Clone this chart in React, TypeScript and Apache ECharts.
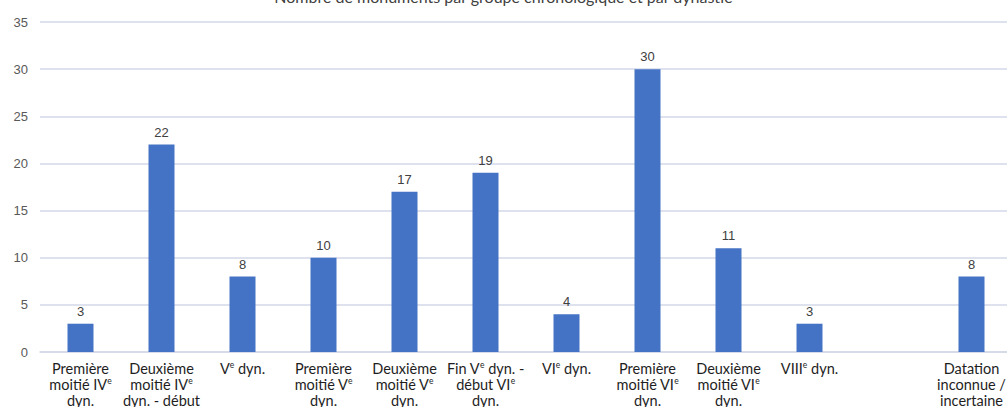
import React, { useEffect, useRef } from "react";
import * as echarts from "echarts";

const titleText = "Nombre de monuments par groupe chronologique et par dynastie";

const categories: string[] = [
  "Première\nmoitié IV{s|e}\ndyn.",
  "Deuxième\nmoitié IV{s|e}\ndyn. - début",
  "V{s|e} dyn.",
  "Première\nmoitié V{s|e}\ndyn.",
  "Deuxième\nmoitié V{s|e}\ndyn.",
  "Fin V{s|e} dyn. -\ndébut VI{s|e}\ndyn.",
  "VI{s|e} dyn.",
  "Première\nmoitié VI{s|e}\ndyn.",
  "Deuxième\nmoitié VI{s|e}\ndyn.",
  "VIII{s|e} dyn.",
  "",
  "Datation\ninconnue /\nincertaine",
];

const values: (number | null)[] = [3, 22, 8, 10, 17, 19, 4, 30, 11, 3, null, 8];

const yMin = 0;
const yMax = 35;
const yInterval = 5;

export default function App() {
  const ref = useRef<HTMLDivElement>(null);
  useEffect(() => {
    document.body.style.margin = "0";
    const chart = echarts.init(ref.current!, undefined, { renderer: "svg" });
    const gridColor = "#D3D8E8";
    chart.setOption({
      animation: false,
      backgroundColor: "#ffffff",
      title: {
        text: titleText,
        left: "center",
        top: -17,
        textStyle: {
          fontFamily: "Lato",
          fontSize: 16,
          fontWeight: "normal",
          color: "#404040",
        },
      },
      grid: {
        left: 40,
        right: -5,
        top: 22,
        bottom: 55,
        containLabel: false,
        outerBoundsMode: "none",
      },
      xAxis: {
        type: "category",
        data: categories,
        axisLine: { lineStyle: { color: gridColor, width: 1.5 } },
        axisTick: { show: false },
        axisLabel: {
          interval: 0,
          margin: 8,
          color: "#1e1e1e",
          fontFamily: "Lato",
          fontSize: 14.5,
          lineHeight: 16,
          align: "center",
          rich: {
            s: {
              fontSize: 8.5,
              fontFamily: "Lato",
              color: "#1e1e1e",
              verticalAlign: "top",
              lineHeight: 16,
              padding: [0, 0, 5, 0],
            },
          },
        },
      },
      yAxis: {
        type: "value",
        min: yMin,
        max: yMax,
        interval: yInterval,
        axisLine: { show: false },
        axisTick: { show: false },
        axisLabel: {
          margin: 12,
          color: "#595959",
          fontFamily: "Liberation Sans",
          fontSize: 13,
        },
        splitLine: { lineStyle: { color: gridColor, width: 1.5 } },
      },
      series: [
        {
          type: "bar",
          data: values,
          barWidth: 26,
          itemStyle: { color: "#4472C4" },
          label: {
            show: true,
            position: "top",
            distance: 6,
            color: "#404040",
            fontFamily: "Liberation Sans",
            fontSize: 13,
          },
        },
      ],
    });
    return () => chart.dispose();
  }, []);
  return (
    <div
      ref={ref}
      style={{ position: "absolute", left: 0, top: 0, width: 1007, height: 407, overflow: "hidden" }}
    />
  );
}
